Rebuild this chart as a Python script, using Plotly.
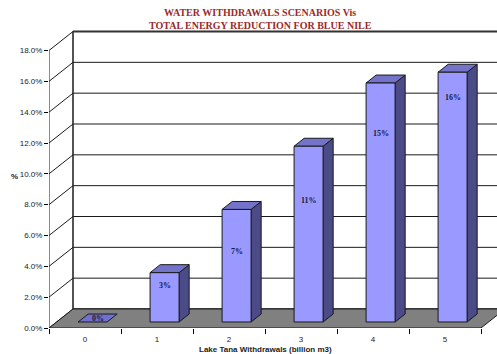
import plotly.graph_objects as go

# ---------------- data ----------------
categories = ["0", "1", "2", "3", "4", "5"]
reduction_pct = [0.0, 3.2, 7.3, 11.4, 15.5, 16.2]
bar_labels = ["0%", "3%", "7%", "11%", "15%", "16%"]
y_tick_vals = [0, 2, 4, 6, 8, 10, 12, 14, 16, 18]
y_tick_text = ["0.0%", "2.0%", "4.0%", "6.0%", "8.0%", "10.0%", "12.0%", "14.0%", "16.0%", "18.0%"]
title_text = "WATER WITHDRAWALS SCENARIOS Vis<br>TOTAL ENERGY REDUCTION FOR BLUE NILE"
x_title = "Lake Tana Withdrawals (billion m3)"
y_title = "%"

# ---------------- geometry / style ----------------
W, H = 497, 354
ML, MR, MT, MB = 49, 0, 20, 26
PW, PH = W - ML - MR, H - MT - MB
PX_PER_CAT = 72.0
PX_PER_UNIT = 15.417
XMIN = -0.5
XMAX = XMIN + PW / PX_PER_CAT
YMAX = PH / PX_PER_UNIT
YTOP = 18
DX = 24 / PX_PER_CAT          # depth offset in x units
DY = 19 / PX_PER_UNIT         # depth offset in y units
F0, FD = 0.316, 0.42          # bar front position / bar depth (fraction of depth)
BW = 29 / PX_PER_CAT          # bar width
FRONT, TOP, SIDE = "#9999FF", "#7373C9", "#4B4B88"
EDGE = "#1a1a1a"
SERIF = "Liberation Serif, Times New Roman, serif"
SANS = "Liberation Sans, Arial, sans-serif"
label_frac = [0.0, 0.73, 0.63, 0.69, 0.79, 0.90]

fig = go.Figure()


def poly(xs, ys, fill, line_color=EDGE, width=1):
    fig.add_trace(go.Scatter(
        x=list(xs) + [xs[0]], y=list(ys) + [ys[0]], mode="lines",
        fill="toself", fillcolor=fill,
        line=dict(color=line_color, width=width),
        hoverinfo="skip", showlegend=False))


def line(xs, ys, color=EDGE, width=1):
    fig.add_trace(go.Scatter(x=xs, y=ys, mode="lines",
                             line=dict(color=color, width=width),
                             hoverinfo="skip", showlegend=False))


n = len(categories)
xr = n - 0.5
# back wall
bx0, bx1 = XMIN + DX, xr + DX
poly([bx0, bx1, bx1, bx0], [DY, DY, YTOP + DY, YTOP + DY], "white")
# gridlines on back wall + diagonals on left wall
for v in y_tick_vals:
    line([XMIN, bx0, bx1], [v, v + DY, v + DY])
line([bx0, bx0], [DY, YTOP + DY])
line([XMIN, XMIN], [0, YTOP])
line([bx0, bx1], [YTOP + DY, YTOP + DY], color="#333333", width=2)
# floor
poly([XMIN, xr, xr + DX, XMIN + DX], [0, 0, DY, DY], "#808080")

# bars
for i, v in enumerate(reduction_pct):
    x0 = i - BW / 2 + F0 * DX
    x1 = x0 + BW
    y0 = F0 * DY
    y1 = y0 + v
    bdx, bdy = FD * DX, FD * DY
    if v > 0:
        poly([x1, x1 + bdx, x1 + bdx, x1], [y0, y0 + bdy, y1 + bdy, y1], SIDE)
        poly([x0, x1, x1 + bdx, x0 + bdx], [y1, y1, y1 + bdy, y1 + bdy], TOP)
        poly([x0, x1, x1, x0], [y0, y0, y1, y1], FRONT)
        ly = y0 + v * label_frac[i]
    else:
        poly([x0, x1, x1 + bdx, x0 + bdx], [y1, y1, y1 + bdy, y1 + bdy], "#7070D0")
        ly = y0 + bdy / 2
    fig.add_annotation(x=(x0 + x1) / 2 + (bdx / 2 if v == 0 else 0), y=ly,
                       text=f"<b>{bar_labels[i]}</b>", showarrow=False,
                       xanchor="center", yanchor="middle",
                       font=dict(family=SERIF, size=8, color="#1a1a40"))

# texts


def px2paper(px, py):
    return (px - ML) / PW, (H - MB - py) / PH


tx, ty = px2paper(260, 19)
fig.add_annotation(x=tx, y=ty, xref="paper", yref="paper", showarrow=False,
                   xanchor="center", yanchor="middle",
                   text=f"<b>{title_text}</b>",
                   font=dict(family=SERIF, size=10, color="#9B2A2A"), align="center")
ax, ay = px2paper(265, 349)
fig.add_annotation(x=ax, y=ay, xref="paper", yref="paper", showarrow=False,
                   xanchor="center", yanchor="middle",
                   text=f"<b>{x_title}</b>", font=dict(family=SANS, size=8, color="#222"))
yx, yy = px2paper(14, 176)
fig.add_annotation(x=yx, y=yy, xref="paper", yref="paper", showarrow=False,
                   xanchor="center", yanchor="middle",
                   text=f"<b>{y_title}</b>", font=dict(family=SANS, size=8, color="#222"))

fig.update_layout(
    width=W, height=H, margin=dict(l=ML, r=MR, t=MT, b=MB),
    paper_bgcolor="white", plot_bgcolor="white", showlegend=False,
    xaxis=dict(range=[XMIN, XMAX], showgrid=False, zeroline=False, showline=False,
               tickvals=list(range(n)), ticktext=categories, ticks="",
               tickfont=dict(family=SANS, size=8, color="#222"),
               ticklabelstandoff=5,
               minor=dict(tickvals=[k - 0.5 for k in range(n + 1)], ticks="outside",
                          ticklen=5, tickcolor="black", showgrid=False),
               fixedrange=True),
    yaxis=dict(range=[0, YMAX], showgrid=False, zeroline=False, showline=False,
               tickvals=y_tick_vals, ticktext=y_tick_text, ticks="outside",
               ticklen=4, tickcolor="black",
               tickfont=dict(family=SANS, size=8, color="#222"), fixedrange=True),
)

fig.write_html("out.html")
